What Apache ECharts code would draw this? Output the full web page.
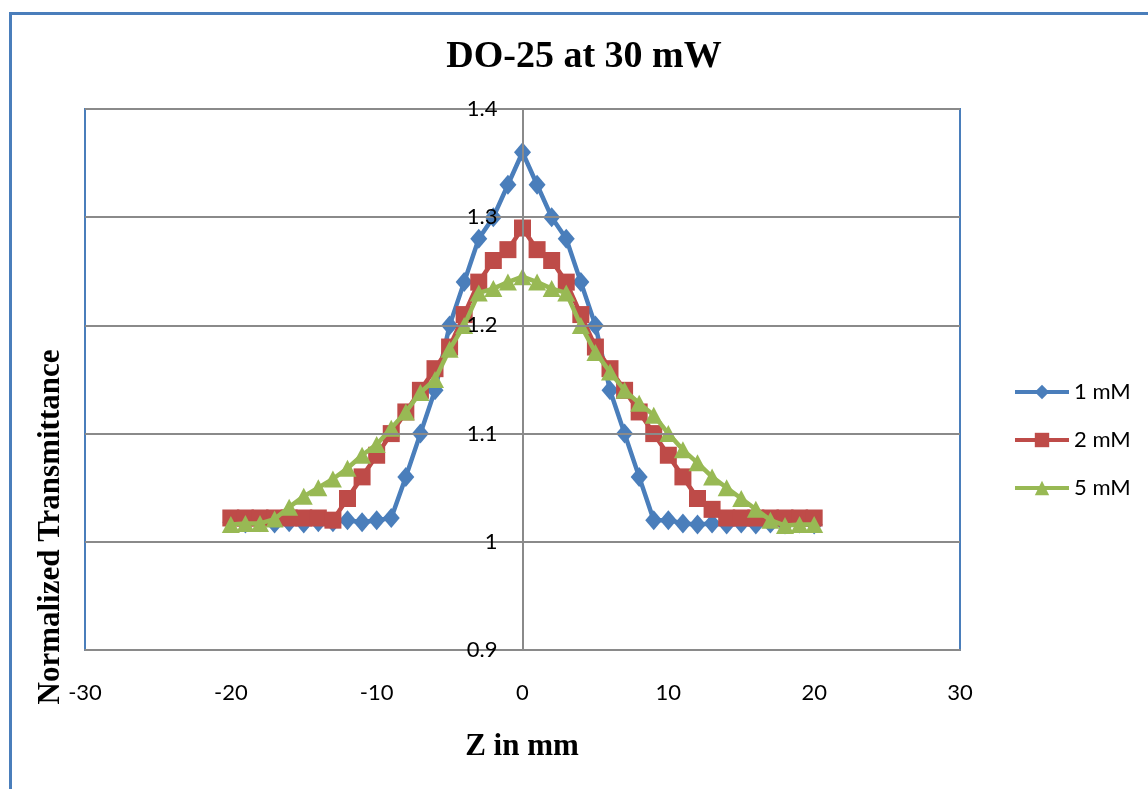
<!DOCTYPE html>
<html>
<head>
<meta charset="utf-8">
<script src="https://cdn.jsdelivr.net/npm/echarts@6/dist/echarts.min.js"></script>
<style>
html,body{margin:0;padding:0;background:#fff;overflow:hidden;}
#frame{position:absolute;left:9px;top:12px;width:1300px;height:1000px;border-left:3px solid #4a7ebb;border-top:3px solid #4a7ebb;}
#main{position:absolute;left:0;top:0;width:1148px;height:789px;}
</style>
</head>
<body>
<div id="frame"></div>
<div id="main"></div>
<script>
// Data
const zPositions = [-20,-19,-18,-17,-16,-15,-14,-13,-12,-11,-10,-9,-8,-7,-6,-5,-4,-3,-2,-1,0,1,2,3,4,5,6,7,8,9,10,11,12,13,14,15,16,17,18,19,20];
const series1mM = [1.018,1.017,1.018,1.017,1.018,1.017,1.018,1.018,1.020,1.018,1.020,1.022,1.06,1.10,1.14,1.20,1.24,1.28,1.30,1.33,1.36,1.33,1.30,1.28,1.24,1.20,1.14,1.10,1.06,1.02,1.02,1.017,1.016,1.017,1.016,1.017,1.016,1.017,1.016,1.017,1.016];
const series2mM = [1.022,1.022,1.022,1.022,1.022,1.022,1.022,1.020,1.04,1.06,1.08,1.10,1.12,1.14,1.16,1.18,1.21,1.24,1.26,1.27,1.29,1.27,1.26,1.24,1.21,1.18,1.16,1.14,1.12,1.10,1.08,1.06,1.04,1.03,1.022,1.022,1.022,1.022,1.022,1.022,1.022];
const series5mM = [1.016,1.017,1.017,1.021,1.032,1.042,1.05,1.058,1.068,1.08,1.09,1.105,1.12,1.138,1.15,1.178,1.20,1.23,1.234,1.24,1.245,1.24,1.234,1.23,1.20,1.175,1.157,1.14,1.128,1.117,1.10,1.085,1.073,1.06,1.05,1.04,1.03,1.02,1.015,1.016,1.016];
const seriesNames = ['1 mM','2 mM','5 mM'];
const xTicks = {min:-30, max:30, interval:10};
const yTicks = {min:0.9, max:1.4, interval:0.1};

const pair = arr => zPositions.map((z,i)=>[z,arr[i]]);
const chart = echarts.init(document.getElementById('main'), null, {renderer:'canvas'});
const labelFont = 'Lato, "Open Sans", sans-serif';
const serif = '"Liberation Serif", "DejaVu Serif", serif';
const gridLeft = 85, gridRight = 188;
// y axis is drawn where x = 0 (offset from the left edge of the plot)
const plotW = 1148 - gridLeft - gridRight;
const yAxisOffset = -plotW * (0 - xTicks.min) / (xTicks.max - xTicks.min);
chart.setOption({
  animation:false,
  backgroundColor:'transparent',
  title:{text:'DO-25 at 30 mW', left:579, top:33, textAlign:'center',
    textStyle:{fontFamily:serif, fontWeight:'bold', fontSize:38, color:'#000'}},
  grid:{left:gridLeft, right:gridRight, top:109, bottom:139, show:true, borderColor:'#4a7ebb', borderWidth:2, backgroundColor:'transparent'},
  legend:{orient:'vertical', left:1013, top:381, padding:0, itemGap:26, itemWidth:54, itemHeight:18,
    lineStyle:{width:4},
    textStyle:{fontFamily:labelFont, fontSize:22, color:'#000'}, data:seriesNames},
  xAxis:{type:'value', min:xTicks.min, max:xTicks.max, interval:xTicks.interval,
    axisLine:{show:true, onZero:false, lineStyle:{color:'#8a8a8a', width:2}},
    axisTick:{show:false}, splitLine:{show:false},
    axisLabel:{margin:32, fontFamily:labelFont, fontSize:22, color:'#000'}},
  yAxis:{type:'value', min:yTicks.min, max:yTicks.max, interval:yTicks.interval, z:10,
    position:'left', offset:yAxisOffset,
    axisLine:{show:true, onZero:false, lineStyle:{color:'#8a8a8a', width:2}},
    axisTick:{show:false},
    splitLine:{show:true, lineStyle:{color:'#8a8a8a', width:2}},
    axisLabel:{margin:25, fontFamily:labelFont, fontSize:22, color:'#000',
      formatter: v => String(Math.round(v*10)/10)}},
  graphic:[
    {type:'text', x:51, y:527, rotation:Math.PI/2,
      style:{text:'Normalized Transmittance', font:'bold 31px '+serif, fill:'#000', textAlign:'center', textVerticalAlign:'middle'}},
    {type:'text', x:522, y:747,
      style:{text:'Z in mm', font:'bold 31px '+serif, fill:'#000', textAlign:'center', textVerticalAlign:'middle'}}
  ],
  series:[
    {name:seriesNames[0], type:'line', data:pair(series1mM), symbol:'diamond', symbolSize:[17,20],
      lineStyle:{width:4.5, color:'#4a7ebb'}, itemStyle:{color:'#4a7ebb'}, z:3},
    {name:seriesNames[1], type:'line', data:pair(series2mM), symbol:'rect', symbolSize:17,
      lineStyle:{width:4.5, color:'#be4b48'}, itemStyle:{color:'#be4b48'}, z:4},
    {name:seriesNames[2], type:'line', data:pair(series5mM), symbol:'triangle', symbolSize:[18,17],
      lineStyle:{width:4.5, color:'#98b954'}, itemStyle:{color:'#98b954'}, z:5}
  ]
});
</script>
</body>
</html>
